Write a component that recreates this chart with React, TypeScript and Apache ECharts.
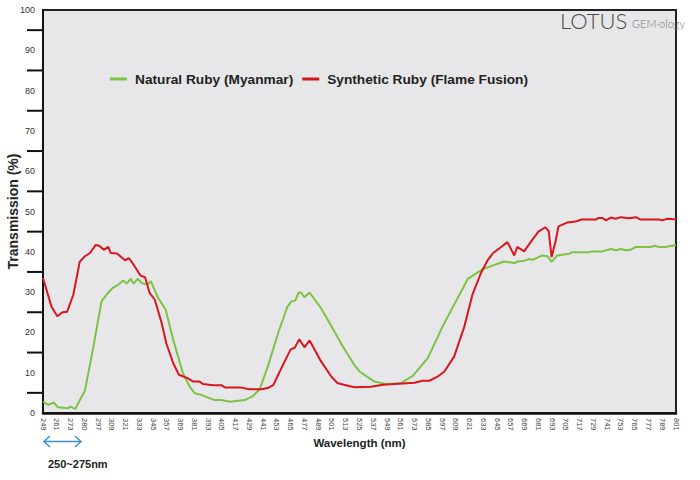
import React, { useEffect, useRef } from "react";
import * as echarts from "echarts";

const tickLabels = [
  "249", "261", "273", "280", "297", "309", "321", "333", "345", "357", "369", "381",
  "393", "405", "417", "429", "441", "453", "465", "477", "489", "501", "513", "525",
  "537", "549", "561", "573", "585", "597", "609", "621", "633", "645", "657", "669",
  "681", "693", "705", "717", "729", "741", "753", "765", "777", "789", "801",
];
const startNm = 249;
const stepNm = 12;
const yTickMarks = [5, 15, 25, 35, 45, 55, 65, 75, 85, 95];

const naturalNm = [
  249, 253.5, 258.5, 262, 271, 273, 277, 285.5, 293, 300, 304.5, 309.5, 314.5, 319, 322,
  325.5, 328, 331.5, 335, 340, 343, 349.5, 356, 362.5, 371, 377, 381.5, 387, 398.5, 404.5,
  412, 425, 432, 438, 445, 454, 462, 465.5, 469, 472, 474, 477, 481.5, 491.5, 500.5, 510.5,
  520.5, 525, 538, 548, 561, 571.5, 584.5, 597.5, 619.5, 632.5, 651, 660, 663, 668.5, 673,
  676, 684.5, 689, 692.5, 697.5, 708, 710, 725, 728, 737, 744, 748.5, 753, 757, 761.5, 766,
  779, 782.5, 786, 792, 801,
];
const naturalT = [
  2.8, 2.0, 2.6, 1.4, 1.2, 1.6, 1.0, 5.5, 16.5, 27.7, 29.4, 31.0, 31.8, 32.9, 32.1,
  33.3, 32.1, 33.3, 32.3, 31.8, 32.7, 28.5, 25.6, 18.2, 9.9, 6.5, 4.9, 4.5, 3.2, 3.2,
  2.8, 3.2, 4.2, 5.9, 11.5, 19.8, 26.3, 27.7, 27.9, 29.9, 29.9, 28.7, 29.9, 26.0, 21.5, 16.5,
  11.9, 10.3, 7.8, 7.2, 7.4, 9.2, 13.6, 21.5, 33.3, 35.7, 37.6, 37.2, 37.6, 37.8, 38.2,
  38.0, 39.1, 38.9, 37.5, 39.1, 39.5, 39.9, 39.9, 40.1, 40.1, 40.7, 40.4, 40.7, 40.4, 40.5, 41.2,
  41.2, 41.5, 41.2, 41.2, 41.7,
];

const syntheticNm = [
  249, 256.5, 261.5, 266, 270, 275.5, 281, 285.5, 290, 295, 298, 302, 306, 308, 313.5,
  320.5, 324, 328, 334, 338, 342, 346.5, 352.5, 356.5, 362.5, 367.5, 375.5, 380, 385.5, 388.5,
  397.5, 404.5, 408, 422, 429, 439.5, 445, 450, 457.5, 465, 468.5, 472.5, 477, 481.5, 491.5,
  500.5, 506, 520.5, 535, 545.5, 573, 580, 586, 593, 599, 607.5, 616.5, 623.5, 631, 636.5,
  641.5, 648.5, 654, 660, 662.5, 668.5, 675.5, 681, 687, 690, 692.5, 696, 698.5, 706.5, 713.5,
  718.5, 731, 733.5, 737, 740, 744, 748.5, 753, 760, 766, 770, 786, 789, 793.5, 801,
];
const syntheticT = [
  33.5, 26.3, 24.0, 25.0, 25.1, 29.4, 37.5, 38.9, 39.7, 41.7, 41.5, 40.5, 41.2, 39.7, 39.6,
  37.9, 38.4, 36.8, 34.1, 33.7, 29.8, 28.1, 22.3, 17.3, 12.4, 9.5, 8.6, 7.8, 7.8, 7.2,
  6.9, 6.9, 6.3, 6.3, 5.9, 5.9, 6.2, 7.0, 11.5, 15.8, 16.2, 18.3, 16.3, 18.0, 12.8,
  9.0, 7.4, 6.4, 6.5, 7.0, 7.5, 8.0, 8.0, 9.0, 10.3, 14.0, 21.5, 29.4, 34.8, 37.8,
  39.7, 41.2, 42.4, 39.1, 41.2, 40.1, 42.9, 45.0, 46.1, 45.1, 38.7, 42.6, 46.3, 47.3, 47.5,
  48.0, 48.0, 48.4, 48.4, 47.8, 48.5, 48.2, 48.6, 48.3, 48.6, 48.0, 48.0, 47.8, 48.2, 48.0,
];

const seriesNames = ["Natural Ruby (Myanmar)", "Synthetic Ruby (Flame Fusion)"];
const rangeNote = "250~275nm";

const FONT = "'Liberation Sans', Arial, Helvetica, sans-serif";

const toPairs = (nm: number[], t: number[]) =>
  nm.map((w, i) => [(w - startNm) / stepNm, t[i]]);

export default function App() {
  const ref = useRef<HTMLDivElement>(null);
  useEffect(() => {
    if (!ref.current) return;
    const chart = echarts.init(ref.current, null, { renderer: "svg" });
    const blue = "#3d8fd8";
    chart.setOption({
      animation: false,
      backgroundColor: "#ffffff",
      textStyle: { fontFamily: FONT },
      grid: {
        left: 43,
        right: 24,
        top: 10,
        bottom: 67,
        containLabel: false,
        outerBoundsMode: "none",
        show: true,
        backgroundColor: "#e7e7e9",
        borderColor: "#222",
        borderWidth: 2,
      },
      legend: {
        left: 110,
        top: 72,
        padding: 0,
        icon: "rect",
        itemWidth: 17,
        itemHeight: 3,
        itemGap: 9,
        textStyle: { fontSize: 13.7, fontWeight: "bold", color: "#222", fontFamily: FONT, padding: [0, 0, 0, 3] },
        data: seriesNames,
      },
      xAxis: {
        type: "value",
        min: 0,
        max: tickLabels.length - 1,
        interval: 1,
        name: "Wavelength (nm)",
        nameLocation: "middle",
        nameGap: 24,
        nameMoveOverlap: false,
        nameTextStyle: { fontSize: 11.5, fontWeight: "bold", color: "#222", fontFamily: FONT },
        axisLine: { show: true, onZero: false, lineStyle: { color: "#111", width: 2.5 } },
        axisTick: { show: false },
        splitLine: { show: false },
        axisLabel: {
          rotate: -90,
          fontSize: 7.5,
          color: "#444",
          margin: 5,
          fontFamily: FONT,
          formatter: (v: number) => tickLabels[Math.round(v)] ?? "",
        },
      },
      yAxis: {
        type: "value",
        min: 0,
        max: 100,
        interval: 10,
        name: "Transmission (%)",
        nameLocation: "middle",
        nameGap: 23,
        nameMoveOverlap: false,
        nameTextStyle: { fontSize: 14, fontWeight: "bold", color: "#222", fontFamily: FONT },
        axisLine: { show: true, onZero: false, lineStyle: { color: "#111", width: 2 } },
        axisTick: { show: false },
        splitLine: { show: false },
        axisLabel: { fontSize: 9, color: "#333", margin: 8, fontFamily: FONT },
      },
      series: [
        {
          name: seriesNames[0],
          type: "line",
          symbol: "none",
          data: toPairs(naturalNm, naturalT),
          lineStyle: { color: "#7cc243", width: 2 },
          itemStyle: { color: "#7cc243" },
        },
        {
          name: seriesNames[1],
          type: "line",
          symbol: "none",
          data: toPairs(syntheticNm, syntheticT),
          lineStyle: { color: "#d9161d", width: 2 },
          itemStyle: { color: "#d9161d" },
        },
        {
          name: "yTicks",
          type: "scatter",
          silent: true,
          clip: false,
          z: 10,
          symbol: "rect",
          symbolSize: [15, 2],
          symbolOffset: [-8.5, 0],
          itemStyle: { color: "#111", opacity: 1 },
          emphasis: { disabled: true },
          tooltip: { show: false },
          data: yTickMarks.map((v) => [0, v]),
        },
      ],
      graphic: [
        {
          id: "logo-main",
          type: "text",
          left: 560,
          top: 9,
          style: { text: "LOTUS", font: "300 22px Lato, 'Open Sans', sans-serif", fill: "#4a4a4a" },
        },
        {
          id: "logo-sub",
          type: "text",
          left: 632,
          top: 18,
          style: { text: "GEM·ology", font: "300 11px Lato, 'Open Sans', sans-serif", fill: "#777" },
        },
        {
          id: "range-line",
          type: "line",
          shape: { x1: 44, y1: 441.5, x2: 81, y2: 441.5 },
          style: { stroke: blue, lineWidth: 1.5 },
        },
        {
          id: "range-head-l",
          type: "polyline",
          shape: { points: [[50, 436], [44, 441.5], [50, 447]] },
          style: { stroke: blue, lineWidth: 1.5, fill: null },
        },
        {
          id: "range-head-r",
          type: "polyline",
          shape: { points: [[75, 436], [81, 441.5], [75, 447]] },
          style: { stroke: blue, lineWidth: 1.5, fill: null },
        },
        {
          id: "range-text",
          type: "text",
          left: 48,
          top: 458,
          style: { text: rangeNote, font: `bold 11px ${FONT}`, fill: "#222" },
        },
      ],
    });
    return () => chart.dispose();
  }, []);
  return (
    <div
      ref={ref}
      style={{ position: "fixed", left: 0, top: 0, width: 700, height: 480, background: "#fff" }}
    />
  );
}
